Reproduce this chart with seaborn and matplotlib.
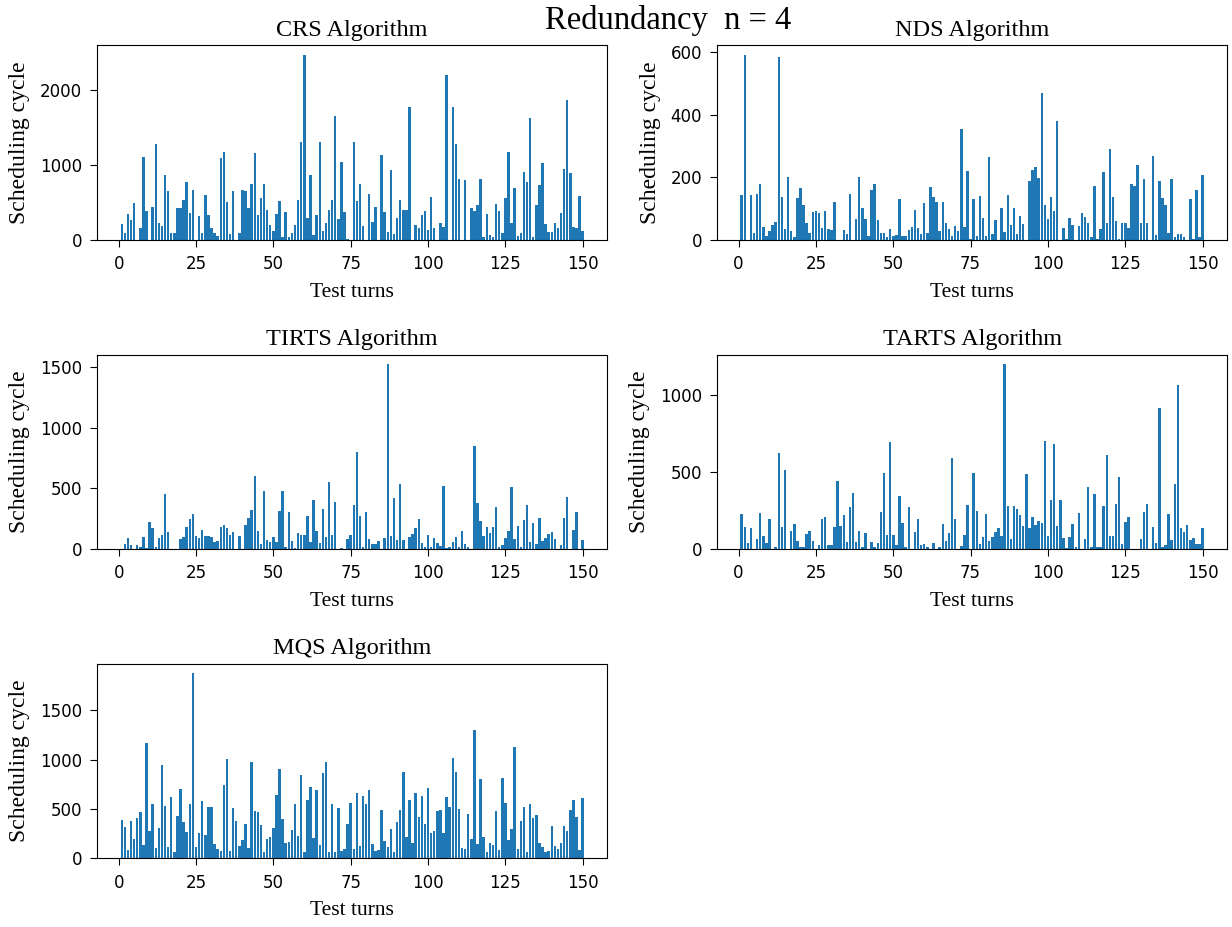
import matplotlib
matplotlib.use("Agg")
import matplotlib.pyplot as plt
import numpy as np
import pandas as pd
import seaborn as sns

# test turns 1..150
turns = list(range(1, 151))

crs = [210, 98, 340, 260, 493, 0, 163, 1112, 381, 0,
       437, 1279, 219, 186, 870, 647, 88, 98, 419, 423,
       535, 772, 353, 670, 0, 316, 88, 605, 326, 163,
       98, 51, 1088, 1177, 507, 74, 647, 0, 98, 670,
       656, 428, 749, 1158, 326, 558, 740, 405, 195, 116,
       340, 516, 42, 372, 33, 98, 195, 526, 1312, 2470,
       293, 870, 60, 326, 1312, 116, 219, 395, 535, 1656,
       284, 1033, 372, 14, 0, 1312, 516, 740, 186, 0,
       614, 242, 437, 0, 1135, 372, 107, 926, 74, 293,
       526, 405, 395, 1777, 0, 195, 163, 326, 381, 130,
       572, 163, 0, 219, 172, 2205, 0, 1777, 1279, 814,
       0, 800, 0, 419, 381, 460, 814, 42, 349, 60,
       33, 479, 381, 98, 558, 1177, 228, 693, 51, 98,
       902, 772, 1623, 42, 470, 726, 1023, 209, 107, 107,
       228, 163, 353, 949, 1860, 893, 172, 163, 591, 116]

nds = [145, 593, 0, 145, 23, 147, 180, 41, 12, 28,
       47, 58, 585, 137, 36, 201, 28, 10, 134, 166,
       113, 53, 23, 89, 92, 85, 39, 92, 34, 31,
       122, 0, 0, 31, 18, 147, 0, 68, 201, 101,
       68, 12, 161, 178, 65, 23, 23, 8, 36, 12,
       15, 132, 12, 12, 31, 41, 97, 39, 20, 118,
       23, 169, 137, 122, 28, 121, 55, 36, 12, 45,
       28, 354, 41, 222, 3, 132, 12, 142, 70, 12,
       267, 18, 63, 0, 101, 26, 145, 47, 103, 20,
       76, 50, 0, 188, 225, 232, 198, 469, 111, 68,
       137, 92, 382, 0, 39, 2, 70, 47, 0, 45,
       87, 73, 55, 8, 172, 2, 36, 217, 55, 292,
       137, 60, 4, 53, 55, 39, 180, 172, 241, 55,
       196, 53, 0, 269, 16, 188, 134, 113, 23, 196,
       10, 18, 20, 10, 0, 130, 2, 161, 8, 209]

tirts = [0, 46, 91, 37, 0, 37, 14, 97, 11, 220,
         177, 14, 91, 117, 451, 140, 0, 0, 0, 83,
         97, 183, 246, 289, 111, 91, 157, 111, 111, 97,
         57, 69, 183, 200, 177, 117, 137, 0, 111, 0,
         200, 260, 320, 600, 148, 46, 477, 77, 57, 103,
         57, 311, 477, 17, 303, 69, 11, 131, 114, 120,
         274, 57, 403, 151, 51, 329, 100, 549, 117, 389,
         0, 11, 0, 86, 117, 363, 800, 274, 14, 303,
         83, 46, 46, 63, 0, 89, 1523, 106, 417, 77,
         537, 77, 0, 103, 126, 177, 251, 51, 14, 117,
         17, 94, 49, 23, 520, 11, 20, 57, 97, 17,
         151, 46, 14, 0, 851, 377, 234, 111, 186, 131,
         186, 343, 20, 34, 91, 151, 511, 83, 194, 14,
         243, 366, 57, 211, 46, 254, 66, 91, 126, 140,
         86, 0, 31, 254, 431, 0, 160, 303, 0, 77]

tarts = [227, 142, 40, 137, 0, 65, 234, 83, 40, 196,
         0, 11, 623, 142, 515, 0, 115, 164, 56, 11,
         11, 99, 115, 56, 0, 29, 194, 211, 29, 29,
         146, 441, 153, 220, 45, 274, 362, 45, 119, 16,
         106, 0, 45, 13, 40, 238, 495, 92, 691, 92,
         25, 344, 169, 11, 274, 0, 108, 198, 29, 36,
         11, 0, 38, 0, 11, 164, 56, 106, 589, 198,
         0, 22, 92, 286, 0, 490, 248, 36, 81, 227,
         56, 81, 108, 137, 83, 1199, 279, 65, 279, 259,
         220, 153, 484, 137, 211, 157, 184, 171, 697, 83,
         317, 679, 153, 317, 72, 7, 77, 166, 11, 232,
         0, 65, 403, 16, 360, 16, 11, 279, 612, 88,
         83, 292, 468, 34, 178, 209, 0, 4, 0, 65,
         243, 292, 0, 142, 40, 911, 16, 29, 227, 61,
         421, 1062, 137, 108, 157, 61, 72, 34, 34, 137]

mqs = [388, 318, 85, 378, 201, 410, 470, 134, 1165, 275,
       554, 106, 311, 950, 530, 117, 621, 67, 434, 706,
       371, 268, 547, 1878, 117, 261, 579, 236, 522, 522,
       148, 92, 74, 745, 1006, 74, 512, 378, 127, 184,
       346, 102, 981, 477, 466, 339, 67, 201, 219, 311,
       639, 907, 395, 159, 169, 286, 547, 226, 847, 67,
       593, 720, 208, 695, 138, 865, 981, 67, 547, 64,
       512, 78, 95, 346, 561, 99, 660, 127, 632, 547,
       695, 148, 74, 85, 487, 177, 117, 300, 67, 367,
       494, 879, 219, 593, 159, 667, 420, 636, 346, 710,
       254, 275, 477, 494, 254, 621, 522, 1013, 879, 501,
       106, 99, 455, 201, 1303, 148, 805, 212, 67, 159,
       134, 477, 85, 815, 561, 191, 300, 1133, 99, 378,
       519, 67, 554, 410, 445, 159, 117, 67, 74, 329,
       124, 99, 152, 329, 275, 487, 590, 420, 85, 611]

panels = [("CRS Algorithm", crs), ("NDS Algorithm", nds),
          ("TIRTS Algorithm", tirts), ("TARTS Algorithm", tarts),
          ("MQS Algorithm", mqs)]

serif = "Liberation Serif"

fig, axs = plt.subplots(3, 2, figsize=(12.32, 9.27), dpi=100)
fig.subplots_adjust(left=0.079, right=0.996, top=0.951, bottom=0.074,
                    wspace=0.216, hspace=0.59)

for ax, (title, vals) in zip(axs.flat, panels):
    df = pd.DataFrame({"turn": turns, "cycle": vals})
    sns.barplot(data=df, x="turn", y="cycle", native_scale=True,
                color="#1f77b4", saturation=1, linewidth=0, ax=ax)
    ax.set_title(title, fontfamily=serif, fontsize=17.5, pad=7)
    ax.set_xlabel("Test turns", fontfamily=serif, fontsize=15.5, labelpad=7)
    ax.set_ylabel("Scheduling cycle", fontfamily=serif, fontsize=17, labelpad=7)
    ax.set_xticks([0, 25, 50, 75, 100, 125, 150])
    ax.tick_params(labelsize=12, length=5, pad=6)
    ax.margins(x=0.05)

axs[2, 1].axis("off")

fig.text(0.542, 0.978, "Redundancy  n = 4", ha="center", va="center",
         fontfamily=serif, fontsize=23.5)

plt.savefig("out.png", dpi=100)
